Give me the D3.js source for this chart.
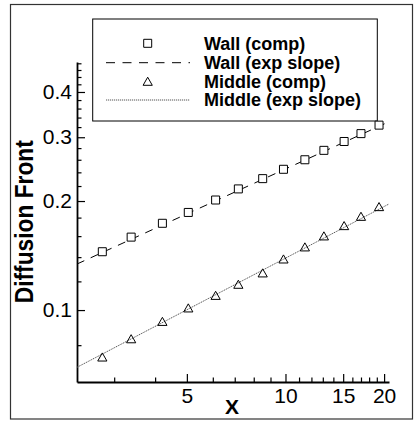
<!DOCTYPE html>
<html>
<head>
<meta charset="utf-8">
<script src="https://cdn.jsdelivr.net/npm/d3@7"></script>
<style>
html,body{margin:0;padding:0;background:#fff;}
svg{display:block;}
text{font-family:"Liberation Sans",Arial,Helvetica,sans-serif;}
</style>
</head>
<body>
<svg id="chart" width="417" height="421"></svg>
<script>
// ---- data ----
const xValues = [2.76, 3.38, 4.21, 5.05, 6.12, 7.18, 8.52, 9.86, 11.46, 13.1, 15.1, 17.0, 19.3];
const wallComp = [0.1449, 0.159, 0.1736, 0.186, 0.2013, 0.216, 0.2306, 0.2447, 0.260, 0.276, 0.292, 0.307, 0.324];
const middleComp = [0.0740, 0.0831, 0.0928, 0.1011, 0.1095, 0.1175, 0.1263, 0.138, 0.149, 0.1598, 0.1706, 0.181, 0.1925];
const fitX = [2.31, 20.7];
const wallFitY = [0.134, 0.331];
const middleFitY = [0.0695, 0.1963];
const xMajorTicks = [5, 10, 15, 20];
const xMinorTicks = [3, 4, 6, 7, 8, 9, 11, 12, 13, 14, 16, 17, 18, 19];
const yMajorTicks = [0.1, 0.2, 0.3, 0.4];
const yMinorTicks = [0.08, 0.12, 0.14, 0.16, 0.18, 0.22, 0.24, 0.26, 0.28, 0.32, 0.34, 0.36, 0.38, 0.42, 0.44, 0.46, 0.48];
const legendLabels = ["Wall (comp)", "Wall (exp slope)", "Middle (comp)", "Middle (exp slope)"];

const svg = d3.select("#chart");
const L = 77, R = 389, T = 62, B = 382;
const x = d3.scaleLog().domain([2.31, 20.7]).range([L, R]);
const y = d3.scaleLog().domain([0.0633, 0.484]).range([B, T]);

// outer frame
svg.append("rect").attr("x", 10.5).attr("y", 4.5).attr("width", 402).attr("height", 414.5)
  .attr("fill", "none").attr("stroke", "#333").attr("stroke-width", 1.2);

// clip
svg.append("clipPath").attr("id", "clip").append("rect")
  .attr("x", L).attr("y", T).attr("width", R - L).attr("height", B - T);

// axes
function styleAxis(g) {
  g.selectAll("path.domain").attr("stroke", "#000").attr("stroke-width", 1.8);
  g.selectAll(".tick line").attr("stroke", "#000").attr("stroke-width", 1.2);
  g.selectAll(".tick text").attr("font-size", "21px").attr("fill", "#000")
    .style("font-family", '"Liberation Sans",Arial,sans-serif');
}
const gx = svg.append("g").attr("transform", `translate(0,${B})`)
  .call(d3.axisBottom(x).tickValues(xMajorTicks).tickFormat(d3.format("d")).tickSize(-8).tickSizeOuter(0).tickPadding(6));
const gxm = svg.append("g").attr("transform", `translate(0,${B})`)
  .call(d3.axisBottom(x).tickValues(xMinorTicks).tickFormat("").tickSize(-4.5).tickSizeOuter(0));
gxm.select("path.domain").remove();
styleAxis(gx); styleAxis(gxm);

const gy = svg.append("g").attr("transform", `translate(${L},0)`)
  .call(d3.axisLeft(y).tickValues(yMajorTicks).tickFormat(d3.format(".1f")).tickSize(-8).tickSizeOuter(0).tickPadding(5));
const gym = svg.append("g").attr("transform", `translate(${L},0)`)
  .call(d3.axisLeft(y).tickValues(yMinorTicks).tickFormat("").tickSize(-4.5).tickSizeOuter(0));
gym.select("path.domain").remove();
styleAxis(gy); styleAxis(gym);

// axis titles
svg.append("text").attr("x", 232).attr("y", 414).attr("text-anchor", "middle")
  .attr("font-size", "21px").attr("font-weight", "bold").text("X");
svg.append("text").attr("transform", "translate(32.5,221.7) rotate(-90)")
  .attr("text-anchor", "middle").attr("font-size", "25px").attr("font-weight", "bold")
  .attr("textLength", 163).attr("lengthAdjust", "spacingAndGlyphs").text("Diffusion Front");

// fit lines
const line = d3.line().x(d => x(d[0])).y(d => y(d[1]));
const plot = svg.append("g").attr("clip-path", "url(#clip)");
plot.append("path").datum(fitX.map((v, i) => [v, wallFitY[i]])).attr("d", line)
  .attr("fill", "none").attr("stroke", "#000").attr("stroke-width", 1).attr("stroke-dasharray", "8,7");
plot.append("path").datum(fitX.map((v, i) => [v, middleFitY[i]])).attr("d", line)
  .attr("fill", "none").attr("stroke", "#555").attr("stroke-width", 1).attr("stroke-dasharray", "1.2,0.8");

// legend
const lg = svg.append("g");
lg.append("rect").attr("x", 92.7).attr("y", 19).attr("width", 284.6).attr("height", 102)
  .attr("fill", "#fff").attr("stroke", "#000").attr("stroke-width", 1);
const rowsY = [43.3, 62.7, 81.7, 100];
legendLabels.forEach((t, i) => {
  lg.append("text").attr("x", 204).attr("y", rowsY[i]).attr("dy", "0.36em")
    .attr("font-size", "18px").attr("font-weight", "bold").text(t);
});
const sqPath = "M-4,-4H4V4H-4Z";
const triPath = "M0,-4.5L4.6,3.6H-4.6Z";
lg.append("path").attr("d", sqPath).attr("transform", `translate(147.7,${rowsY[0]})`)
  .attr("fill", "#fff").attr("stroke", "#000").attr("stroke-width", 1);
lg.append("line").attr("x1", 106).attr("x2", 190).attr("y1", rowsY[1]).attr("y2", rowsY[1])
  .attr("stroke", "#000").attr("stroke-width", 1).attr("stroke-dasharray", "9,7.5");
lg.append("path").attr("d", triPath).attr("transform", `translate(147.7,${rowsY[2]})`)
  .attr("fill", "none").attr("stroke", "#000").attr("stroke-width", 1);
lg.append("line").attr("x1", 106).attr("x2", 190).attr("y1", rowsY[3]).attr("y2", rowsY[3])
  .attr("stroke", "#555").attr("stroke-width", 1).attr("stroke-dasharray", "1.2,0.8");

// markers
svg.append("g").selectAll("path").data(xValues.map((v, i) => [v, wallComp[i]])).join("path")
  .attr("d", sqPath).attr("transform", d => `translate(${x(d[0])},${y(d[1])})`)
  .attr("fill", "#fff").attr("stroke", "#000").attr("stroke-width", 1);
svg.append("g").selectAll("path").data(xValues.map((v, i) => [v, middleComp[i]])).join("path")
  .attr("d", triPath).attr("transform", d => `translate(${x(d[0])},${y(d[1])})`)
  .attr("fill", "none").attr("stroke", "#000").attr("stroke-width", 1);
</script>
</body>
</html>
